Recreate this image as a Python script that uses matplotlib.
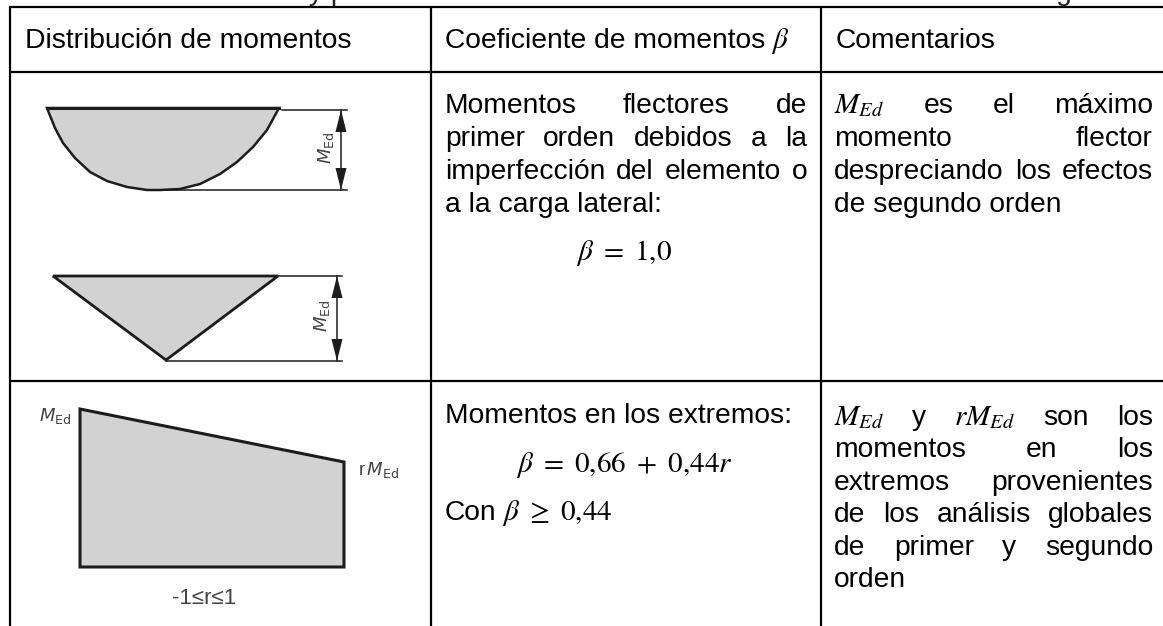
import matplotlib
matplotlib.use("Agg")
import matplotlib.pyplot as plt
from matplotlib.patches import Polygon

plt.rcParams["font.family"] = ["Liberation Sans", "DejaVu Sans"]
plt.rcParams["mathtext.fontset"] = "stix"

# table grid (pixels of the picture)
col_x = [10, 431, 821]
row_y = [6.5, 72, 381]

title = "Tabla 5.3. Coeficientes y parámetros del método de los momentos de cálculo de segundo orden"
headers = ["Distribución de momentos", "Coeficiente de momentos", "Comentarios"]

# (text, justified, baseline)
col2_lines = [
    ("Momentos flectores de", True, 113),
    ("primer orden debidos a la", True, 146),
    ("imperfección del elemento o", True, 179),
    ("a la carga lateral:", False, 212),
    ("Momentos en los extremos:", False, 423),
    ("Con", False, 520),
]
col2_formulas = [(r"$\beta\ =\ 1{,}0$", 260), (r"$\beta\ =\ 0{,}66\ +\ 0{,}44r$", 472)]

col3_lines = [
    (r"$M_{Ed}$ es el máximo", True, 113),
    ("momento flector", True, 146),
    ("despreciando los efectos", True, 179),
    ("de segundo orden", False, 212),
    (r"$M_{Ed}$ y $rM_{Ed}$ son los", True, 425),
    ("momentos en los", True, 457),
    ("extremos provenientes", True, 490),
    ("de los análisis globales", True, 522),
    ("de primer y segundo", True, 555),
    ("orden", False, 587),
]

# diagram outlines
parabola_x = [47, 55, 63, 75, 90, 107, 127, 147, 160, 180, 200, 220, 237, 253, 267, 279]
parabola_y = [108, 128, 143, 158, 172, 181, 187, 190, 190, 189, 184, 174, 162, 147, 130, 108]
triangle_x = [53, 278, 166]
triangle_y = [276, 276, 360]
trapeze_x = [80, 344, 344, 80]
trapeze_y = [409, 462, 567, 567]

FILL = "#d2d2d2"
EDGE = "#1c1c1c"
LABEL = "#444444"
FS = 20.3
FS_MATH = 21

fig = plt.figure(figsize=(11.63, 6.26), dpi=100)
ax = fig.add_axes([0, 0, 1, 1])
ax.set_xlim(0, 1163)
ax.set_ylim(626, 0)
ax.axis("off")


def put_line(text, x0, x1, y, justified):
    if not justified:
        ax.text(x0, y, text, fontsize=FS, va="baseline", ha="left")
        return
    # word by word, so the line fills the cell like justified text
    words = []
    for part in text.split(" "):
        size = FS_MATH if "$" in part else FS
        words.append(ax.text(x0, y, part, fontsize=size, va="baseline", ha="left"))
    r = fig.canvas.get_renderer()
    widths = [w.get_window_extent(r).width for w in words]
    gap = (x1 - x0 - sum(widths)) / (len(words) - 1)
    x = x0
    for w, width in zip(words, widths):
        w.set_x(x)
        x += width + gap


def dimension(x, top, bottom, x_start_top, x_start_bottom, x_end):
    ax.plot([x_start_top, x_end], [top, top], color=EDGE, lw=1.1)
    ax.plot([x_start_bottom, x_end], [bottom, bottom], color=EDGE, lw=1.1)
    ax.plot([x, x], [top, bottom], color=EDGE, lw=1.1)
    ax.add_patch(Polygon([[x, top], [x - 5.5, top + 22], [x + 5.5, top + 22]], color=EDGE, lw=0))
    ax.add_patch(Polygon([[x, bottom], [x - 5.5, bottom - 22], [x + 5.5, bottom - 22]], color=EDGE, lw=0))


# clipped caption at the very top
ax.text(15, 0.2, title, fontsize=FS, va="baseline", ha="left", clip_on=True, color="#222222")

# grid
for y in row_y:
    ax.plot([col_x[0] - 1, 1163], [y, y], color="black", lw=1.6, solid_capstyle="butt")
for x in col_x:
    ax.plot([x, x], [row_y[0], 626], color="black", lw=1.6, solid_capstyle="butt")

ax.text(25, 48, headers[0], fontsize=FS, va="baseline")
ax.text(445, 48, headers[1], fontsize=FS, va="baseline")
ax.text(771, 48, r"$\beta$", fontsize=FS_MATH, va="baseline")
ax.text(836, 48, headers[2], fontsize=FS, va="baseline")

for text, just, y in col2_lines:
    put_line(text, 445, 807, y, just)
ax.text(502, 520, r"$\beta\ \geq\ 0{,}44$", fontsize=FS_MATH, va="baseline")
for text, y in col2_formulas:
    ax.text(624, y, text, fontsize=FS_MATH, va="baseline", ha="center")
for text, just, y in col3_lines:
    put_line(text, 834, 1153, y, just)

# moment diagrams
ax.add_patch(Polygon(list(zip(parabola_x, parabola_y)), closed=True, fc=FILL, ec=EDGE, lw=1.8))
ax.plot([parabola_x[0], parabola_x[-1]], [parabola_y[0], parabola_y[-1]], color=EDGE, lw=2.2)
ax.add_patch(Polygon(list(zip(triangle_x, triangle_y)), closed=True, fc=FILL, ec=EDGE, lw=2))
ax.add_patch(Polygon(list(zip(trapeze_x, trapeze_y)), closed=True, fc=FILL, ec=EDGE, lw=2.2))

dimension(341, 110, 190, 282, 160, 347)
dimension(337, 276, 361, 278, 166, 342)

med = r"$\mathit{M}_{\mathrm{Ed}}$"
ax.text(326, 148, med, fontsize=13, rotation=90, color=LABEL, ha="center", va="center", math_fontfamily="dejavusans")
ax.text(322, 316, med, fontsize=13, rotation=90, color=LABEL, ha="center", va="center", math_fontfamily="dejavusans")
ax.text(55, 416, med, fontsize=13, color=LABEL, ha="center", va="center", math_fontfamily="dejavusans")
ax.text(379, 470, r"r$\,\mathit{M}_{\mathrm{Ed}}$", fontsize=13, color=LABEL, ha="center", va="center", math_fontfamily="dejavusans")
ax.text(204, 598, "-1≤r≤1", fontsize=16, color=LABEL, ha="center", va="center")

fig.savefig("out.png", dpi=100, facecolor="white")
